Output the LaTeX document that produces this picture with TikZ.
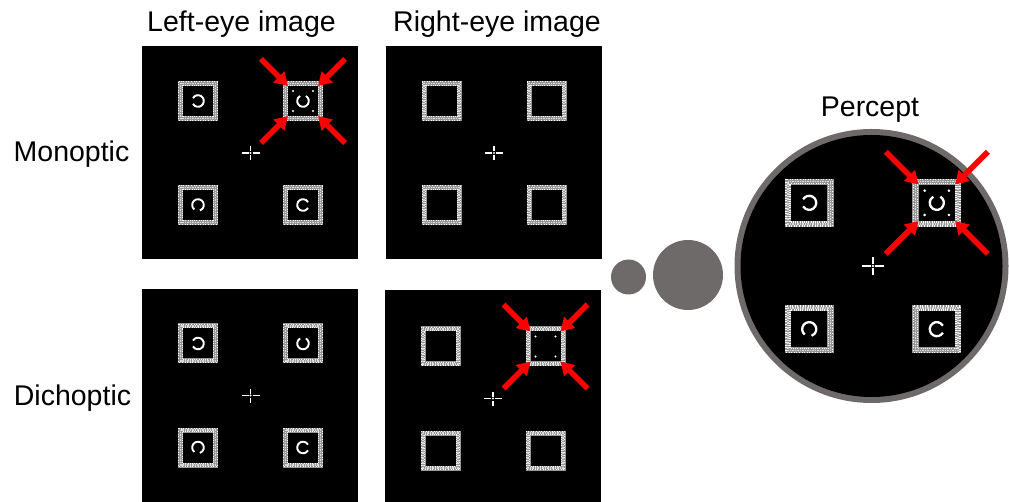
\documentclass[tikz,border=0pt]{standalone}
\usepackage{fontspec}
\setmainfont{Liberation Sans}
\usetikzlibrary{arrows.meta}
\definecolor{disk}{RGB}{111,106,106}
\definecolor{redarrow}{RGB}{255,0,0}
\definecolor{noisegray}{RGB}{150,150,150}
\tikzset{
  panel/.style={fill=black, draw=none, minimum width=216pt, minimum height=213pt, inner sep=0pt, outer sep=0pt},
  lab/.style={font=\fontsize{28.5}{30}\selectfont, inner sep=0pt, anchor=base},
  redarr/.style={draw=redarrow, line width=5.5pt, -{Triangle[width=15pt,length=13pt]}},
  ringline/.style={draw=white},
  fixline/.style={draw=white},
}
% #1 center, #2 scale, #3 rings, #4 dots, #5 arrows, #6 prefix
\newcommand\stimset[6]{%
\begin{scope}[shift={#1}, scale=#2]
  \foreach \sx/\sy/\g in {-1/-1/180, 1/-1/270, -1/1/100, 1/1/0} {
    \draw[noisegray, line width=#2*5pt] (\sx*52.5-17.5, \sy*52-17.5) rectangle ++(35,35);
    \draw[white, line width=#2*1.1pt, dash pattern=on 1pt off 1.6pt] (\sx*52.5-19.2, \sy*52-19.2) rectangle ++(38.4,38.4);
    \draw[white!85!black, line width=#2*1.1pt, dash pattern=on 1.4pt off 1.1pt, dash phase=0.7pt] (\sx*52.5-17.5, \sy*52-17.5) rectangle ++(35,35);
    \draw[white, line width=#2*1.1pt, dash pattern=on 0.9pt off 1.3pt, dash phase=0.4pt] (\sx*52.5-15.8, \sy*52-15.8) rectangle ++(31.6,31.6);
    \ifnum#3=1
      \draw[ringline, line width=#2*1.9pt] (\sx*52.5,\sy*52) ++(\g+30:5.8) arc[start angle=\g+30, end angle=\g+330, radius=5.8];
    \fi
  }
  \ifnum#4=1
    \foreach \dx/\dy in {-1/-1, 1/-1, -1/1, 1/1}
      \fill[white] (52.5+\dx*10, -52+\dy*10) circle (1.2);
  \fi
  \ifnum#5=1
    \foreach \dx/\dy/\n in {-1/-1/a, 1/-1/b, -1/1/c, 1/1/d} {
      \coordinate (#6tail\n) at (52.5+\dx*42, -52+\dy*42);
      \coordinate (#6tip\n) at (52.5+\dx*15, -52+\dy*15);
      \draw[redarr] (#6tail\n) -- (#6tip\n);
    }
  \fi
  \draw[fixline, line width=#2*1.5pt] (-9,0) -- (-2,0) (2,0) -- (9,0) (0,-7) -- (0,-2) (0,2) -- (0,7);
  \fill[white] (0,0) circle (1.2);
\end{scope}}
\begin{document}
\begin{tikzpicture}[x=1pt, y=-1pt]
  \useasboundingbox (0,0) rectangle (1009,502);
  % labels
  \node[lab] (tleft) at (241.5,32) {Left-eye image};
  \node[lab] (tright) at (497,32) {Right-eye image};
  \node[lab] (tmono) at (71.5,162) {Monoptic};
  \node[lab] (tdich) at (72.5,405) {Dichoptic};
  \node[lab] (tperc) at (870,117) {Percept};
  % panels
  \node[panel] (LM) at (250,152.5) {};
  \node[panel] (RM) at (494,152.5) {};
  \node[panel] (LD) at (250,395.5) {};
  \node[panel, minimum height=212pt] (RD) at (493,396) {};
  \stimset{(250.5,153)}{1}{1}{1}{1}{lm}
  \stimset{(494,153)}{1}{0}{0}{0}{rm}
  \stimset{(250.5,395.5)}{1}{1}{0}{0}{ld}
  \stimset{(493,398.5)}{1}{0}{1}{1}{rd}
  % thought bubbles
  \fill[disk] (628.5,277) circle (17.5) node (b1) {};
  \fill[disk] (688,275) circle (35) node (b2) {};
  % percept
  \fill[disk] (871.5,266) circle (137) node (P) {};
  \fill[black] (871.5,266) circle (131);
  \stimset{(873,266)}{1.215}{1}{1}{1}{pc}
\end{tikzpicture}
\end{document}
